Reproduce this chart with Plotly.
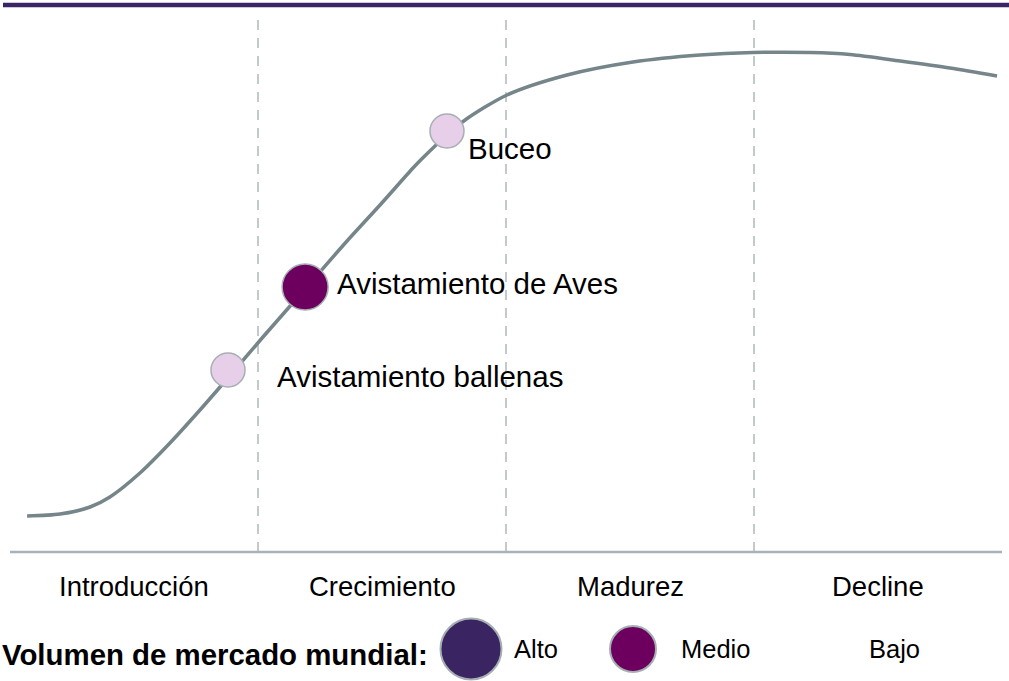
import plotly.graph_objects as go

# Etapas del ciclo de vida
stages = ["Introducción", "Crecimiento", "Madurez", "Decline"]

# Curva del ciclo de vida (x en unidades de etapa, y = nivel de mercado)
curve_x = [0.069, 0.202, 0.323, 0.403, 0.524, 0.645, 0.766, 0.847, 0.879, 1.020,
           1.190, 1.359, 1.492, 1.625, 1.660, 1.762, 1.835, 2.004, 2.246, 2.512,
           2.782, 2.996, 3.226, 3.387, 3.589, 3.790, 3.980]
curve_y = [7.2, 7.6, 9.0, 11.0, 15.8, 21.8, 28.4, 33.0, 34.8, 43.0,
           52.6, 62.2, 69.4, 76.8, 78.6, 83.4, 86.4, 91.4, 95.4, 98.0,
           99.4, 99.9, 99.9, 99.5, 98.2, 96.8, 95.2]

# Productos sobre la curva
products = ["Avistamiento ballenas", "Avistamiento de Aves", "Buceo"]
product_x = [0.879, 1.190, 1.762]
product_y = [36.4, 53.0, 84.2]
product_volume = ["Bajo", "Medio", "Bajo"]

# Volumen de mercado mundial
volume_levels = ["Alto", "Medio", "Bajo"]
volume_colors = {"Alto": "#3a2462", "Medio": "#6d005f", "Bajo": "#e8cfe9"}
volume_sizes = {"Alto": 61, "Medio": 46, "Bajo": 34}

FONT = "Liberation Sans, Arial, sans-serif"
W, H = 1009, 681
PX = 248.0          # pixels per stage
X0 = 10.0           # pixel of x = 0
BASE = 552.0        # pixel of y = 0
PY = 5.0            # pixels per y unit

fig = go.Figure()

# vertical dashed separators between stages
for i in range(1, len(stages)):
    fig.add_shape(type="line", x0=i, x1=i, y0=0, y1=(BASE - 20) / PY,
                  line=dict(color="#c3cacc", width=2, dash="10px,8px"), layer="below")

# base axis line
fig.add_shape(type="line", x0=0, x1=len(stages), y0=0, y1=0,
              line=dict(color="#a9b2b6", width=2.5), layer="below")

# top purple bar
fig.add_shape(type="line", xref="paper", yref="paper", x0=3 / W, x1=1,
              y0=1 - 5 / H, y1=1 - 5 / H, line=dict(color="#3b2566", width=4.5))

fig.add_trace(go.Scatter(x=curve_x, y=curve_y, mode="lines",
                         line=dict(color="#75858a", width=3.5, shape="spline", smoothing=0.8),
                         hoverinfo="skip"))

fig.add_trace(go.Scatter(
    x=product_x, y=product_y, mode="markers",
    marker=dict(size=[volume_sizes[v] for v in product_volume],
                color=[volume_colors[v] for v in product_volume],
                line=dict(color="#a6b0b3", width=1.5), opacity=1),
    text=products, hoverinfo="text", cliponaxis=False))

label_shift = {"Avistamiento ballenas": (47, -6),
               "Avistamiento de Aves": (30, 4),
               "Buceo": (19, -17)}
for name, x, y in zip(products, product_x, product_y):
    dx, dy = label_shift[name]
    fig.add_annotation(x=x, y=y, text=name, showarrow=False, xanchor="left",
                       yanchor="middle", xshift=dx, yshift=dy,
                       font=dict(family=FONT, size=29.5, color="#000000"))

# stage labels
for i, s in enumerate(stages):
    fig.add_annotation(x=i + 0.5, y=0, text=s, showarrow=False, yanchor="middle",
                       yshift=-34, font=dict(family=FONT, size=27.5, color="#000000"))

# legend
leg_y = (BASE - 649) / PY
fig.add_annotation(xref="paper", x=0, y=leg_y, text="<b>Volumen de mercado mundial:</b>",
                   showarrow=False, xanchor="left", yanchor="middle", yshift=-5,
                   font=dict(family=FONT, size=29.4, color="#000000"))
leg_marker_px = {"Alto": 471, "Medio": 633}
leg_text_px = {"Alto": 512, "Medio": 679, "Bajo": 867}
shown = [v for v in volume_levels if v in leg_marker_px]
fig.add_trace(go.Scatter(
    x=[(leg_marker_px[v] - X0) / PX for v in shown], y=[leg_y] * len(shown),
    mode="markers", cliponaxis=False, hoverinfo="skip",
    marker=dict(size=[volume_sizes[v] for v in shown],
                color=[volume_colors[v] for v in shown],
                line=dict(color="#a6b0b3", width=2), opacity=1)))
for v in volume_levels:
    fig.add_annotation(x=(leg_text_px[v] - X0) / PX, y=leg_y, text=v, showarrow=False,
                       xanchor="left", yanchor="middle",
                       font=dict(family=FONT, size=25.5, color="#000000"))

fig.update_layout(
    width=W, height=H, margin=dict(l=0, r=0, t=0, b=0),
    paper_bgcolor="white", plot_bgcolor="white", showlegend=False,
    xaxis=dict(range=[-X0 / PX, (W - X0) / PX], visible=False, fixedrange=True),
    yaxis=dict(range=[(BASE - H) / PY, BASE / PY], visible=False, fixedrange=True),
)

fig.write_html("out.html", config={"displayModeBar": False},
               post_script="document.body.style.margin='0';")
